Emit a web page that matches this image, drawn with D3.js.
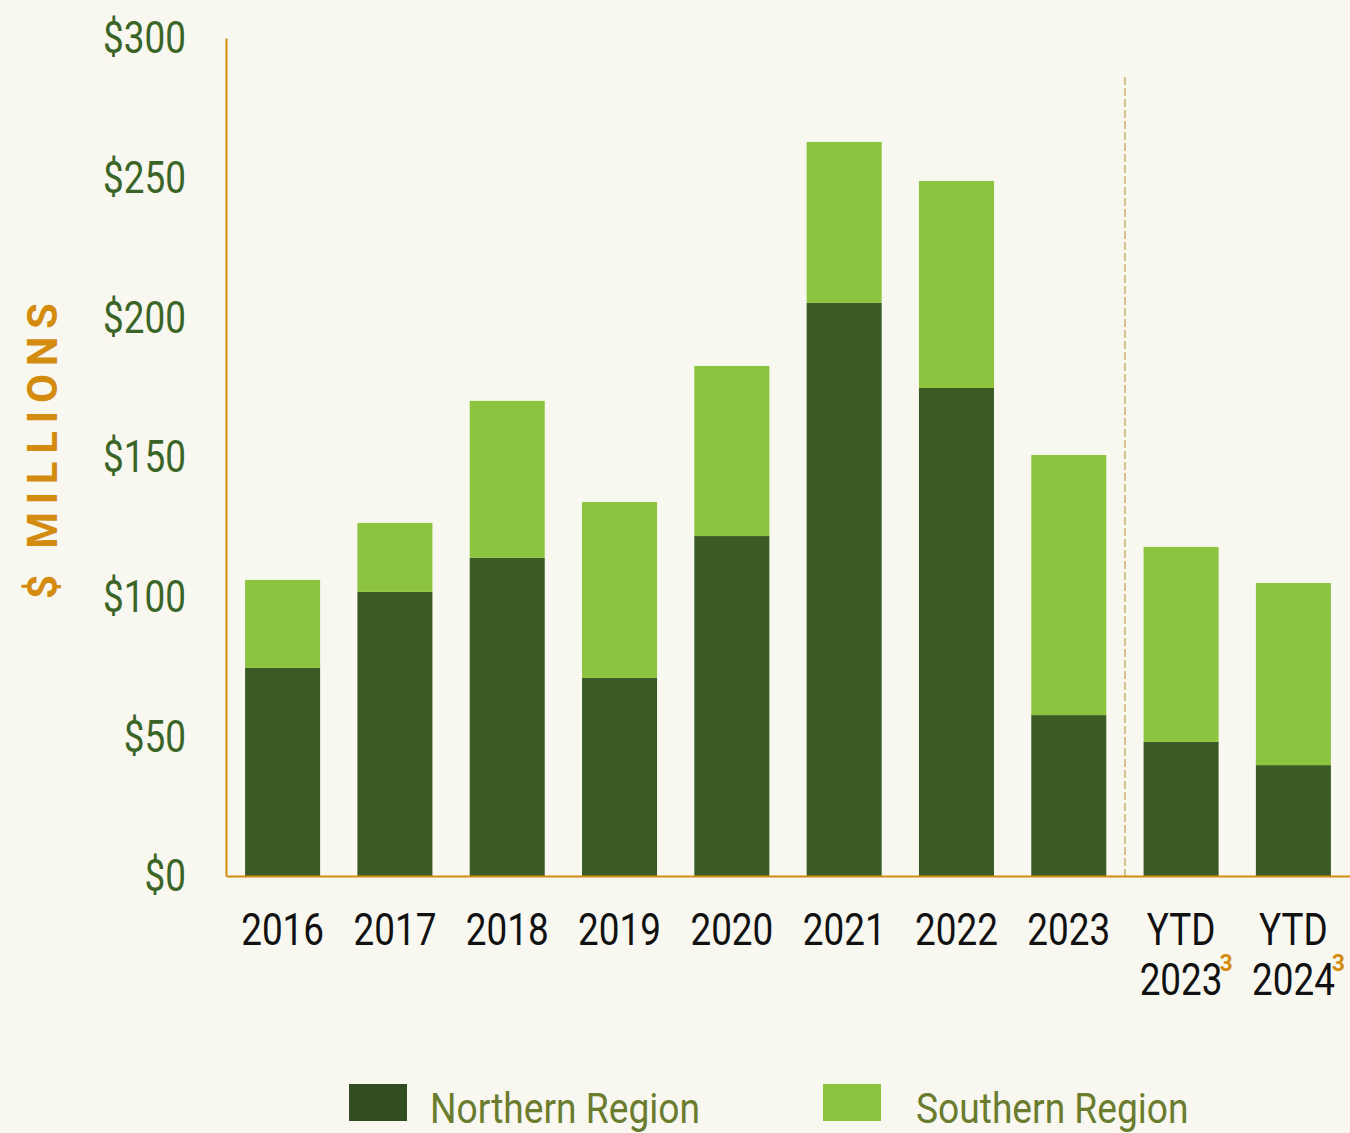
<!DOCTYPE html>
<html>
<head>
<meta charset="utf-8">
<script src="https://cdn.jsdelivr.net/npm/d3@7"></script>
<style>
  html, body { margin: 0; padding: 0; background: #f8f8f1; }
  svg { display: block; }
  text { font-family: Roboto, "Noto Sans", sans-serif; }
</style>
</head>
<body>
<svg width="1350" height="1133"></svg>
<script>
(function (d3) {
  'use strict';

  // data
  var categories = ["2016", "2017", "2018", "2019", "2020", "2021", "2022", "2023", "YTD 2023", "YTD 2024"];
  var northern = [74.5, 101.7, 113.9, 70.9, 121.7, 205.2, 174.7, 57.6, 48.0, 39.7];
  var southern = [31.5, 24.7, 56.2, 63.0, 60.9, 57.6, 74.1, 93.1, 69.8, 65.2];
  var yTicks = [0, 50, 100, 150, 200, 250, 300];
  var seriesNames = ["Northern Region", "Southern Region"];

  var colors = { northern: "#3b5b25", southern: "#8cc43f" };
  var axisColor = "#d48c10";
  var sx = 0.82; // condensed look

  var svg = d3.select("svg");

  var rows = categories.map(function (c, i) {
    return { cat: c, northern: northern[i], southern: southern[i] };
  });
  var stacked = d3.stack().keys(["northern", "southern"])(rows);

  var x = d3.scaleBand().domain(categories).range([226, 1350])
      .paddingInner(0.332).paddingOuter(0.17);
  var y = d3.scaleLinear().domain([0, 300]).range([876, 38]);

  // bars
  svg.append("g").selectAll("g")
      .data(stacked)
      .enter().append("g")
      .attr("fill", function (d) { return colors[d.key]; })
      .selectAll("rect")
      .data(function (d) { return d; })
      .enter().append("rect")
      .attr("x", function (d) { return x(d.data.cat); })
      .attr("y", function (d) { return y(d[1]); })
      .attr("width", x.bandwidth())
      .attr("height", function (d) { return y(d[0]) - y(d[1]); });

  // dashed separator between 2023 and YTD
  var sepX = (x("2023") + x.bandwidth() + x("YTD 2023")) / 2;
  svg.append("line")
      .attr("x1", sepX).attr("x2", sepX)
      .attr("y1", y(286)).attr("y2", y(0))
      .attr("stroke", "#d6c08c")
      .attr("stroke-width", 2)
      .attr("stroke-dasharray", "8,3");

  // y axis
  var yAxis = svg.append("g")
      .attr("transform", "translate(226,0)")
      .call(d3.axisLeft(y).tickValues(yTicks).tickSize(0).tickSizeOuter(0).tickPadding(40)
        .tickFormat(function (d) { return "$" + d; }));
  yAxis.select(".domain").attr("stroke", axisColor).attr("stroke-width", 2);
  yAxis.selectAll("text")
      .attr("font-size", 45)
      .attr("fill", "#3b6527")
      .attr("x", -40 / sx)
      .attr("dy", "0.33em")
      .attr("transform", "scale(" + sx + ",1)");

  // x axis
  var xAxis = svg.append("g")
      .attr("transform", "translate(0," + y(0) + ")")
      .call(d3.axisBottom(x).tickSize(0).tickSizeOuter(0).tickFormat(""));
  xAxis.select(".domain").attr("stroke", axisColor).attr("stroke-width", 2);

  xAxis.selectAll(".tick").each(function (d) {
    var g = d3.select(this);
    g.select("text").remove();
    var parts = d.split(" ");
    var t = g.append("text")
        .attr("text-anchor", "middle")
        .attr("font-size", 45)
        .attr("fill", "#111")
        .attr("transform", "scale(" + sx + ",1)");
    parts.forEach(function (p, i) {
      t.append("tspan").attr("x", 0).attr("y", 69 + i * 50).text(p);
    });
    if (parts.length > 1) {
      // footnote marker
      g.append("text")
          .attr("x", 45)
          .attr("y", 95)
          .attr("font-size", 23)
          .attr("font-weight", "bold")
          .attr("fill", axisColor)
          .text("3");
    }
  });

  // y axis title
  svg.append("text")
      .attr("transform", "translate(57,451) rotate(-90)")
      .attr("text-anchor", "middle")
      .attr("font-family", "'Open Sans', sans-serif")
      .attr("font-weight", "bold")
      .attr("font-size", 42)
      .attr("fill", axisColor)
      .attr("textLength", 296)
      .attr("lengthAdjust", "spacing")
      .text("$ MILLIONS");

  // legend
  var legendX = [349, 823];
  var legendTextX = [81, 93];
  var lsx = 0.885;
  var legend = svg.append("g").selectAll("g")
      .data(seriesNames)
      .enter().append("g")
      .attr("transform", function (d, i) { return "translate(" + legendX[i] + ",1084)"; });
  legend.append("rect")
      .attr("width", 58).attr("height", 37)
      .attr("fill", function (d, i) { return i === 0 ? "#334d22" : colors.southern; });
  legend.append("text")
      .attr("x", function (d, i) { return legendTextX[i] / lsx; })
      .attr("y", 39)
      .attr("font-size", 42)
      .attr("fill", "#6b7c2f")
      .attr("transform", "scale(" + lsx + ",1)")
      .text(function (d) { return d; });

}(d3));
</script>
</body>
</html>
